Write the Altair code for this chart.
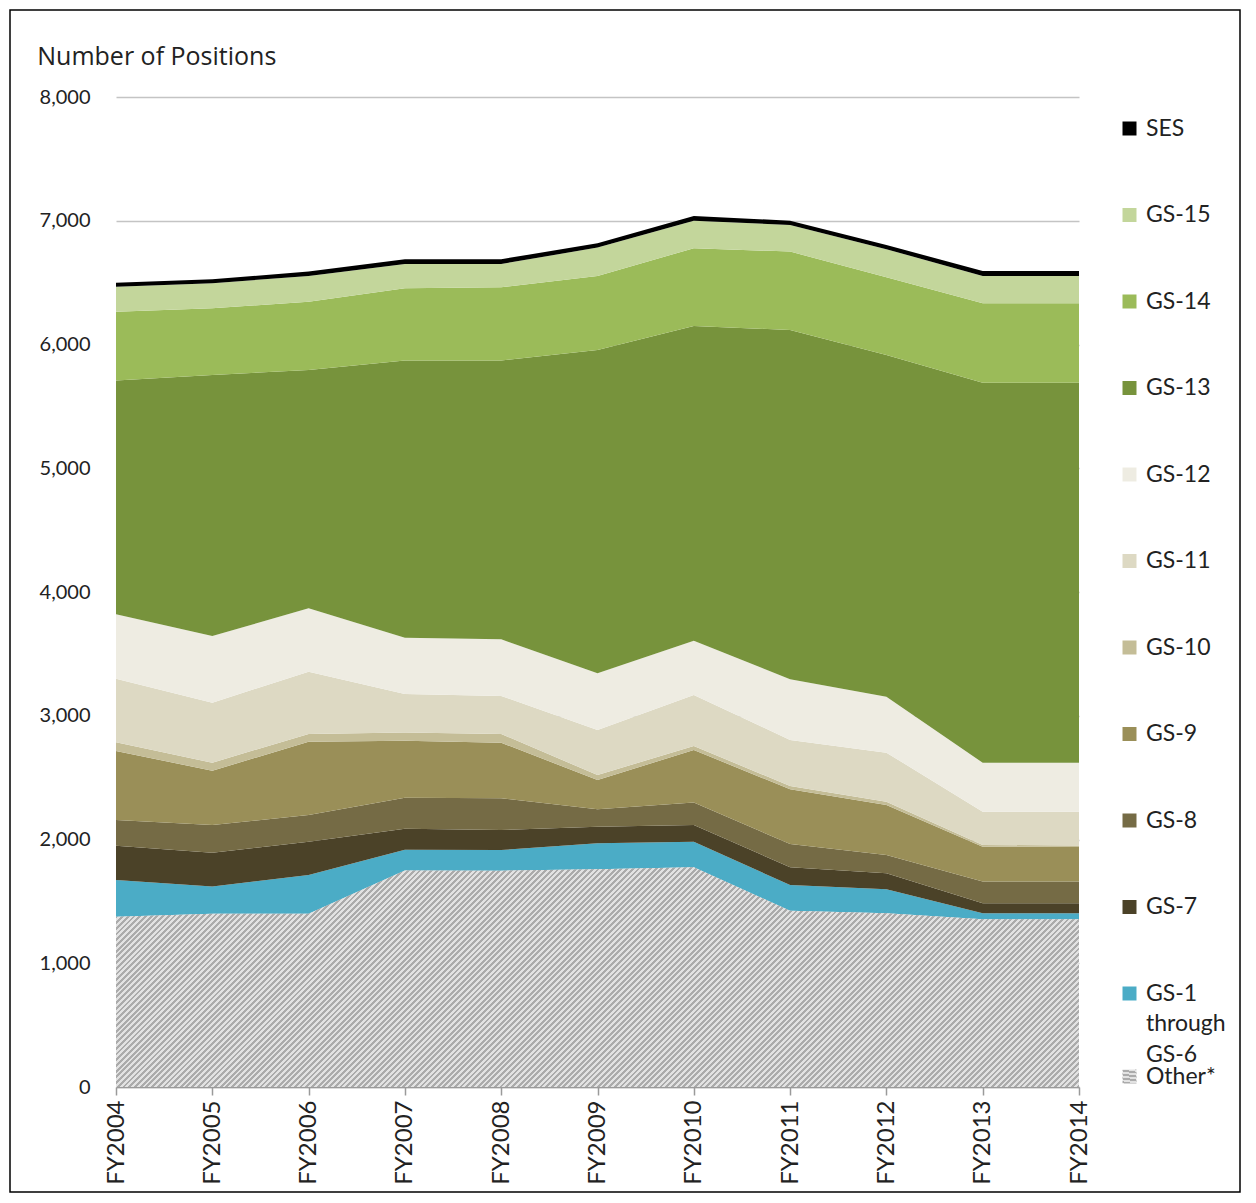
import altair as alt
import pandas as pd

years = ["FY2004", "FY2005", "FY2006", "FY2007", "FY2008", "FY2009",
         "FY2010", "FY2011", "FY2012", "FY2013", "FY2014"]

# series listed bottom of stack -> top of stack
other = [1375, 1400, 1400, 1750, 1748, 1759, 1775, 1425, 1404, 1355, 1355]
gs1_6 = [298, 220, 313, 168, 167, 210, 207, 207, 194, 49, 49]
gs7 = [277, 273, 269, 169, 162, 135, 135, 143, 129, 81, 81]
gs8 = [208, 224, 216, 250, 256, 140, 181, 189, 148, 175, 175]
gs9 = [557, 439, 592, 460, 449, 237, 425, 442, 404, 282, 280]
gs10 = [70, 65, 63, 68, 71, 40, 33, 26, 27, 14, 12]
gs11 = [515, 485, 503, 310, 307, 364, 412, 372, 396, 269, 273]
gs12 = [520, 538, 512, 455, 458, 458, 439, 491, 452, 396, 396]
gs13 = [1890, 2110, 1926, 2240, 2252, 2613, 2543, 2822, 2761, 3070, 3070]
gs14 = [555, 538, 552, 584, 592, 598, 628, 634, 628, 642, 642]
gs15 = [202, 203, 208, 197, 189, 229, 223, 215, 227, 221, 221]
ses = [33, 32, 35, 38, 38, 35, 37, 35, 34, 40, 40]

series_names = ["Other*", "GS-1 through GS-6", "GS-7", "GS-8", "GS-9", "GS-10",
                "GS-11", "GS-12", "GS-13", "GS-14", "GS-15", "SES"]
series_values = [other, gs1_6, gs7, gs8, gs9, gs10, gs11, gs12, gs13, gs14, gs15, ses]
series_colors = ["#c8c8c8", "#4bacc6", "#4b4228", "#756b45", "#9a8f58", "#c4bd97",
                 "#ddd9c3", "#eeece2", "#77933c", "#9bbb59", "#c3d69b", "#000000"]

rows = []
for i, (name, vals) in enumerate(zip(series_names, series_values)):
    for y, v in zip(years, vals):
        rows.append({"year": y, "series": name, "value": v, "idx": i})
df = pd.DataFrame(rows)

W, H = 963, 990
YMAX = 8000
FONT = "Lato"

legend_order = series_names[::-1]
legend_colors = series_colors[::-1]
main_legend_values = [s for s in legend_order if s != "Other*"]


def stripes(w, h, period, light, dark):
    """45-degree stripe gradient for a box of w x h pixels."""
    gx = (w + h) * w / (w * w + h * h)
    gy = (w + h) * h / (w * w + h * h)
    n = max(1, int(round((w + h) / period)))
    st = []
    for k in range(n):
        a, m, b = k / n, (k + 0.5) / n, (k + 1) / n
        st += [alt.GradientStop(offset=a, color=light),
               alt.GradientStop(offset=m, color=light),
               alt.GradientStop(offset=m, color=dark),
               alt.GradientStop(offset=b, color=dark)]
    return alt.LinearGradient(gradient="linear", x1=0, y1=0, x2=gx, y2=gy,
                              stops=st)


x_enc = alt.X("year:O", sort=years,
              scale=alt.Scale(type="point", padding=0),
              axis=alt.Axis(title=None, labelAngle=270, labelFontSize=24,
                            labelColor="#222222", labelFont=FONT,
                            domainColor="#9a9a9a", domainWidth=1.5,
                            tickColor="#9a9a9a", tickSize=8, tickWidth=1.5,
                            labelPadding=5, grid=False))
y_enc = alt.Y("value:Q", stack="zero",
              scale=alt.Scale(domain=[0, YMAX], nice=False),
              axis=alt.Axis(title=None, values=list(range(0, 8001, 1000)),
                            labelExpr="format(datum.value, ',')",
                            labelFontSize=20, labelColor="#222222",
                            labelFont=FONT, domain=False, ticks=False,
                            labelPadding=26, gridColor="#c4c4c4",
                            gridWidth=1.5))

stack = alt.Chart(df).mark_area(interpolate="linear").encode(
    x=x_enc,
    y=y_enc,
    color=alt.Color("series:N",
                    scale=alt.Scale(domain=legend_order, range=legend_colors),
                    legend=alt.Legend(
                        title=None, orient="none", legendX=1002, legendY=20,
                        values=main_legend_values,
                        symbolType="square", symbolSize=196,
                        symbolStrokeWidth=0, labelFontSize=23,
                        labelFont=FONT, labelColor="#222222",
                        labelOffset=5, rowPadding=62.5, labelLimit=200,
                        labelExpr="datum.label == 'GS-1 through GS-6' ? ['GS-1', 'through', 'GS-6'] : datum.label")),
    order=alt.Order("idx:Q", sort="ascending"),
)

# hatch pattern for "Other*" via a striped linear gradient
hatch = stripes(float(W), max(other) / YMAX * H, 5.7, "#e2e2e2", "#ababab")

other_layer = alt.Chart(df).transform_filter(
    alt.datum.series == "Other*"
).mark_area(interpolate="linear", color=hatch).encode(
    x=alt.X("year:O", sort=years, scale=alt.Scale(type="point", padding=0)),
    y=alt.Y("value:Q", stack="zero"),
    opacity=alt.Opacity("series:N",
                        scale=alt.Scale(domain=["Other*"], range=[1]),
                        legend=alt.Legend(
                            title=None, orient="none", legendX=1002, legendY=968,
                            symbolType="square", symbolSize=196,
                            symbolStrokeWidth=0, symbolFillColor="#c4c4c4",
                            symbolOpacity=1, labelFontSize=23,
                            labelFont=FONT, labelColor="#222222",
                            labelOffset=5)),
)

frame = alt.Chart(pd.DataFrame({"k": [0]})).mark_rect(
    filled=False, stroke="#000000", strokeWidth=1.5, clip=False
).encode(
    x=alt.value(-106), x2=alt.value(1124),
    y=alt.value(-87), y2=alt.value(1095),
)

chart = alt.layer(stack, other_layer, frame).properties(
    width=W, height=H,
    title=alt.TitleParams("Number of Positions", anchor="start", fontSize=25,
                          font="Open Sans", fontWeight="normal", color="#222222",
                          offset=0, dx=28, dy=61),
    autosize=alt.AutoSizeParams(type="none"),
    padding={"left": 108, "top": 89, "right": 168, "bottom": 108},
).configure(
    background="white",
    view=alt.ViewConfig(stroke=None),
    style={"guide-label": {"lineHeight": 30.5}},
)

chart.save("out.html", embed_options={"renderer": "svg", "actions": False})
